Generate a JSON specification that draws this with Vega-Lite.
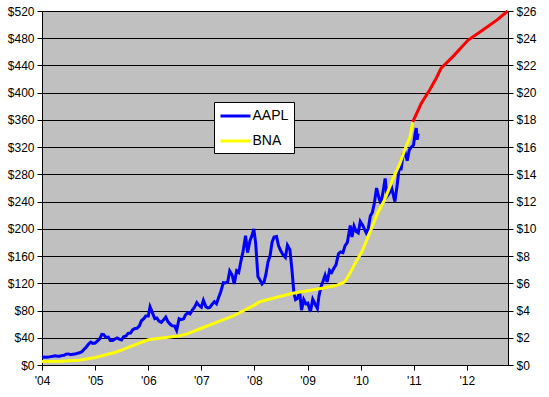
{
  "$schema": "https://vega.github.io/schema/vega-lite/v6.json",
  "width": 466,
  "height": 354,
  "autosize": {"type": "none"},
  "padding": {"left": 42, "top": 11, "right": 41, "bottom": 32},
  "background": "white",
  "config": {
    "view": {"fill": "#C0C0C0", "stroke": "#808080", "strokeWidth": 1},
    "axis": {
      "labelFont": "Liberation Sans",
      "labelFontSize": 12,
      "labelColor": "black",
      "tickColor": "black",
      "domainColor": "black",
      "gridColor": "black",
      "gridOpacity": 1,
      "tickSize": 5,
      "labelPadding": 3,
      "labelOverlap": false,
      "title": null
    }
  },
  "datasets": {
    "aapl": [
      {"date": "2004-01-02", "price": 10.7}, {"date": "2004-01-16", "price": 11.8}, {"date": "2004-02-01", "price": 11.3}, {"date": "2004-02-15", "price": 11.6},
      {"date": "2004-03-01", "price": 12.3}, {"date": "2004-03-15", "price": 12.8}, {"date": "2004-04-01", "price": 13.5}, {"date": "2004-04-15", "price": 13.0},
      {"date": "2004-05-01", "price": 12.9}, {"date": "2004-05-15", "price": 13.8}, {"date": "2004-06-01", "price": 14.2}, {"date": "2004-06-15", "price": 16.0},
      {"date": "2004-07-01", "price": 16.3}, {"date": "2004-07-15", "price": 15.2}, {"date": "2004-08-01", "price": 15.9}, {"date": "2004-08-15", "price": 16.0},
      {"date": "2004-09-01", "price": 17.3}, {"date": "2004-09-15", "price": 18.0}, {"date": "2004-10-01", "price": 19.4}, {"date": "2004-10-15", "price": 22.7},
      {"date": "2004-11-01", "price": 26.5}, {"date": "2004-11-15", "price": 30.5}, {"date": "2004-12-01", "price": 33.5}, {"date": "2004-12-15", "price": 31.8},
      {"date": "2005-01-01", "price": 32.2}, {"date": "2005-01-15", "price": 35.0}, {"date": "2005-02-01", "price": 38.5}, {"date": "2005-02-15", "price": 45.0},
      {"date": "2005-03-01", "price": 44.5}, {"date": "2005-03-15", "price": 40.5}, {"date": "2005-04-01", "price": 41.0}, {"date": "2005-04-15", "price": 36.0},
      {"date": "2005-05-01", "price": 36.1}, {"date": "2005-05-15", "price": 38.0}, {"date": "2005-06-01", "price": 39.8}, {"date": "2005-06-15", "price": 38.0},
      {"date": "2005-07-01", "price": 36.8}, {"date": "2005-07-15", "price": 41.5}, {"date": "2005-08-01", "price": 42.7}, {"date": "2005-08-15", "price": 46.5},
      {"date": "2005-09-01", "price": 46.9}, {"date": "2005-09-15", "price": 51.5}, {"date": "2005-10-01", "price": 53.6}, {"date": "2005-10-15", "price": 54.0},
      {"date": "2005-11-01", "price": 57.6}, {"date": "2005-11-15", "price": 65.0}, {"date": "2005-12-01", "price": 68.0}, {"date": "2005-12-15", "price": 72.0},
      {"date": "2006-01-01", "price": 72.0}, {"date": "2006-01-13", "price": 85.6}, {"date": "2006-02-01", "price": 75.5}, {"date": "2006-02-15", "price": 68.0},
      {"date": "2006-03-01", "price": 69.0}, {"date": "2006-03-15", "price": 64.5}, {"date": "2006-04-01", "price": 62.7}, {"date": "2006-04-15", "price": 66.0},
      {"date": "2006-05-01", "price": 70.4}, {"date": "2006-05-15", "price": 64.0}, {"date": "2006-06-01", "price": 59.8}, {"date": "2006-06-15", "price": 57.5},
      {"date": "2006-07-01", "price": 57.3}, {"date": "2006-07-15", "price": 51.0}, {"date": "2006-08-01", "price": 68.0}, {"date": "2006-08-15", "price": 66.5},
      {"date": "2006-09-01", "price": 67.9}, {"date": "2006-09-15", "price": 74.0}, {"date": "2006-10-01", "price": 77.0}, {"date": "2006-10-15", "price": 75.0},
      {"date": "2006-11-01", "price": 81.0}, {"date": "2006-11-15", "price": 85.0}, {"date": "2006-12-01", "price": 91.7}, {"date": "2006-12-15", "price": 87.7},
      {"date": "2007-01-01", "price": 84.8}, {"date": "2007-01-15", "price": 95.0}, {"date": "2007-02-01", "price": 85.7}, {"date": "2007-02-15", "price": 84.0},
      {"date": "2007-03-01", "price": 84.6}, {"date": "2007-03-15", "price": 89.0}, {"date": "2007-04-01", "price": 92.9}, {"date": "2007-04-15", "price": 90.0},
      {"date": "2007-05-01", "price": 99.8}, {"date": "2007-05-15", "price": 108.0}, {"date": "2007-06-01", "price": 121.0}, {"date": "2007-06-15", "price": 120.5},
      {"date": "2007-07-01", "price": 122.0}, {"date": "2007-07-15", "price": 138.0}, {"date": "2007-08-01", "price": 131.8}, {"date": "2007-08-15", "price": 119.0},
      {"date": "2007-09-01", "price": 138.5}, {"date": "2007-09-15", "price": 136.0}, {"date": "2007-10-01", "price": 153.5}, {"date": "2007-10-15", "price": 167.0},
      {"date": "2007-11-01", "price": 190.0}, {"date": "2007-11-15", "price": 165.0}, {"date": "2007-12-01", "price": 182.2}, {"date": "2007-12-15", "price": 190.0},
      {"date": "2007-12-28", "price": 200.0}, {"date": "2008-01-10", "price": 178.0}, {"date": "2008-01-25", "price": 130.0}, {"date": "2008-02-08", "price": 125.0},
      {"date": "2008-02-22", "price": 119.0}, {"date": "2008-03-07", "price": 122.0}, {"date": "2008-03-20", "price": 133.0}, {"date": "2008-04-03", "price": 151.0},
      {"date": "2008-04-18", "price": 161.0}, {"date": "2008-05-01", "price": 180.0}, {"date": "2008-05-15", "price": 188.0}, {"date": "2008-06-01", "price": 188.8},
      {"date": "2008-06-15", "price": 175.0}, {"date": "2008-07-01", "price": 167.4}, {"date": "2008-07-15", "price": 162.0}, {"date": "2008-08-01", "price": 158.0},
      {"date": "2008-08-15", "price": 176.0}, {"date": "2008-09-01", "price": 169.5}, {"date": "2008-09-15", "price": 140.0}, {"date": "2008-09-29", "price": 105.0},
      {"date": "2008-10-10", "price": 96.0}, {"date": "2008-10-24", "price": 98.0}, {"date": "2008-11-07", "price": 108.0}, {"date": "2008-11-20", "price": 80.5},
      {"date": "2008-12-05", "price": 96.0}, {"date": "2008-12-19", "price": 90.0}, {"date": "2009-01-02", "price": 90.8}, {"date": "2009-01-20", "price": 78.2},
      {"date": "2009-02-05", "price": 96.5}, {"date": "2009-02-20", "price": 90.0}, {"date": "2009-03-09", "price": 83.1}, {"date": "2009-03-20", "price": 101.5},
      {"date": "2009-04-03", "price": 115.0}, {"date": "2009-04-17", "price": 123.0}, {"date": "2009-05-01", "price": 132.0}, {"date": "2009-05-15", "price": 122.0},
      {"date": "2009-06-01", "price": 139.0}, {"date": "2009-06-15", "price": 136.0}, {"date": "2009-07-01", "price": 142.4}, {"date": "2009-07-15", "price": 147.0},
      {"date": "2009-08-01", "price": 163.4}, {"date": "2009-08-15", "price": 166.0}, {"date": "2009-09-01", "price": 165.0}, {"date": "2009-09-15", "price": 175.0},
      {"date": "2009-10-01", "price": 180.0}, {"date": "2009-10-21", "price": 204.9}, {"date": "2009-11-02", "price": 188.0}, {"date": "2009-11-16", "price": 204.0},
      {"date": "2009-12-01", "price": 196.0}, {"date": "2009-12-15", "price": 194.0}, {"date": "2009-12-29", "price": 211.0}, {"date": "2010-01-15", "price": 205.0},
      {"date": "2010-01-28", "price": 199.0}, {"date": "2010-02-08", "price": 194.0}, {"date": "2010-02-22", "price": 200.0}, {"date": "2010-03-08", "price": 219.0},
      {"date": "2010-03-22", "price": 224.0}, {"date": "2010-04-05", "price": 238.0}, {"date": "2010-04-20", "price": 260.0}, {"date": "2010-05-06", "price": 246.0},
      {"date": "2010-05-20", "price": 237.0}, {"date": "2010-06-04", "price": 255.0}, {"date": "2010-06-18", "price": 274.0}, {"date": "2010-07-01", "price": 248.0},
      {"date": "2010-07-15", "price": 252.0}, {"date": "2010-08-01", "price": 261.0}, {"date": "2010-08-24", "price": 240.0}, {"date": "2010-09-08", "price": 263.0},
      {"date": "2010-09-22", "price": 288.0}, {"date": "2010-10-06", "price": 288.0}, {"date": "2010-10-20", "price": 310.0}, {"date": "2010-11-03", "price": 312.0},
      {"date": "2010-11-17", "price": 300.0}, {"date": "2010-12-01", "price": 316.0}, {"date": "2010-12-15", "price": 320.0}, {"date": "2010-12-30", "price": 323.0},
      {"date": "2011-01-10", "price": 340.0}, {"date": "2011-01-18", "price": 348.0}, {"date": "2011-01-24", "price": 331.0}, {"date": "2011-01-31", "price": 340.0}
    ],
    "bna": [
      {"date": "2004-01-01", "value": 0.25}, {"date": "2004-05-08", "value": 0.28}, {"date": "2004-09-12", "value": 0.35}, {"date": "2005-01-01", "value": 0.55},
      {"date": "2005-05-27", "value": 0.95}, {"date": "2005-09-12", "value": 1.4}, {"date": "2006-01-01", "value": 1.85}, {"date": "2006-04-20", "value": 2.0},
      {"date": "2006-08-08", "value": 2.15}, {"date": "2006-10-01", "value": 2.3}, {"date": "2007-01-01", "value": 2.7}, {"date": "2007-04-20", "value": 3.15},
      {"date": "2007-08-08", "value": 3.6}, {"date": "2007-10-20", "value": 4.0}, {"date": "2008-01-01", "value": 4.4}, {"date": "2008-02-07", "value": 4.65},
      {"date": "2008-04-20", "value": 4.85}, {"date": "2008-09-12", "value": 5.25}, {"date": "2009-01-01", "value": 5.45}, {"date": "2009-04-20", "value": 5.65},
      {"date": "2009-07-20", "value": 5.85}, {"date": "2009-09-12", "value": 6.1}, {"date": "2009-10-20", "value": 6.75}, {"date": "2009-11-25", "value": 7.5},
      {"date": "2010-01-08", "value": 8.3}, {"date": "2010-03-04", "value": 9.7}, {"date": "2010-04-27", "value": 11.15}, {"date": "2010-06-13", "value": 12.1},
      {"date": "2010-08-08", "value": 13.6}, {"date": "2010-09-28", "value": 14.8}, {"date": "2010-10-31", "value": 15.8}, {"date": "2010-12-06", "value": 16.75},
      {"date": "2010-12-25", "value": 17.85}
    ],
    "forecast": [
      {"date": "2010-12-25", "value": 17.85}, {"date": "2011-02-21", "value": 19.2}, {"date": "2011-04-20", "value": 20.2}, {"date": "2011-06-06", "value": 21.1},
      {"date": "2011-07-08", "value": 21.8}, {"date": "2011-09-27", "value": 22.65}, {"date": "2012-01-08", "value": 23.85}, {"date": "2012-04-20", "value": 24.6},
      {"date": "2012-07-27", "value": 25.35}, {"date": "2012-10-08", "value": 26.0}
    ]
  },
  "layer": [
    {
      "data": {"name": "aapl"},
      "mark": {"type": "line", "strokeWidth": 3},
      "encoding": {
        "x": {
          "field": "date", "type": "temporal",
          "scale": {"domain": ["2004-01-01", "2012-10-10"]},
          "axis": {"format": "'%y", "tickCount": {"interval": "year", "step": 1}, "grid": false, "labelFlush": false, "labelPadding": 5}
        },
        "y": {
          "field": "price", "type": "quantitative",
          "scale": {"domain": [0, 520], "nice": false},
          "axis": {"values": [0, 40, 80, 120, 160, 200, 240, 280, 320, 360, 400, 440, 480, 520], "labelExpr": "'$' + datum.value", "grid": true}
        },
        "color": {
          "datum": "AAPL",
          "scale": {"domain": ["AAPL", "BNA"], "range": ["#0000FF", "#FFFF00"]},
          "legend": {
            "orient": "none", "legendX": 172, "legendY": 91, "title": null,
            "fillColor": "white", "strokeColor": "black", "padding": 5,
            "labelFont": "Liberation Sans", "labelFontSize": 14, "labelColor": "black",
            "labelOffset": 8, "symbolOffset": 7.5, "symbolType": "M-2,0L2,0", "symbolStrokeWidth": 3,
            "symbolSize": 225, "rowPadding": 9
          }
        }
      }
    },
    {
      "layer": [
        {
          "data": {"name": "bna"},
          "mark": {"type": "line", "strokeWidth": 3},
          "encoding": {
            "x": {"field": "date", "type": "temporal"},
            "y": {
              "field": "value", "type": "quantitative",
              "scale": {"domain": [0, 26], "nice": false},
              "axis": {"orient": "right", "values": [0, 2, 4, 6, 8, 10, 12, 14, 16, 18, 20, 22, 24, 26], "labelExpr": "'$' + datum.value", "grid": false, "labelOverlap": false}
            },
            "color": {"datum": "BNA"}
          }
        },
        {
          "data": {"name": "forecast"},
          "mark": {"type": "line", "strokeWidth": 3, "color": "#FF0000"},
          "encoding": {
            "x": {"field": "date", "type": "temporal"},
            "y": {
              "field": "value", "type": "quantitative",
              "axis": {"orient": "right", "values": [0, 2, 4, 6, 8, 10, 12, 14, 16, 18, 20, 22, 24, 26], "labelExpr": "'$' + datum.value", "grid": false, "labelOverlap": false}
            }
          }
        }
      ]
    }
  ],
  "resolve": {"scale": {"y": "independent"}}
}
